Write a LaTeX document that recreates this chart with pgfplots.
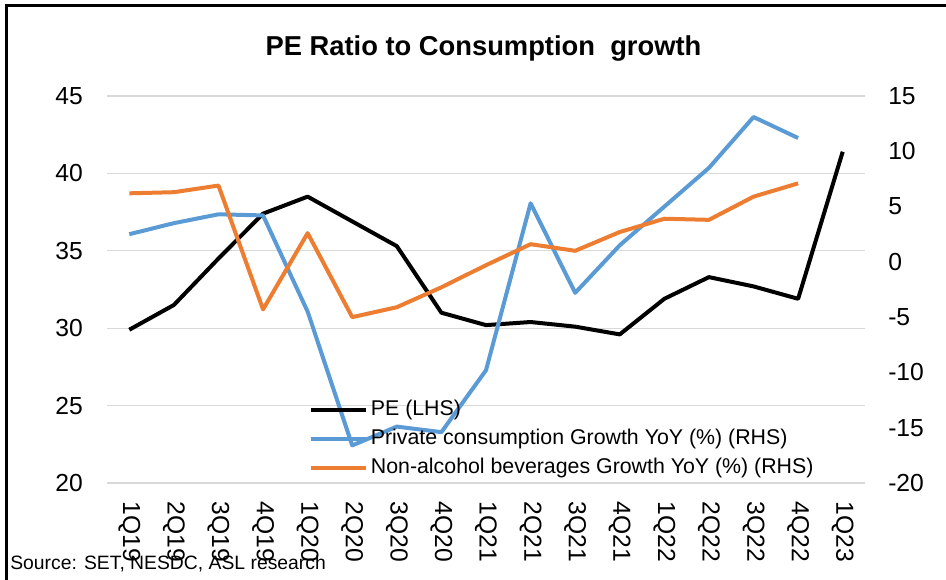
\documentclass[border=0pt]{standalone}
\usepackage{pgfplots}
\pgfplotsset{compat=1.18}
\usepackage{fontspec}
\setmainfont{Liberation Sans}
\definecolor{pcblue}{HTML}{5B9BD5}
\definecolor{naorange}{HTML}{ED7D31}
\definecolor{gridgray}{HTML}{D9D9D9}
\pgfplotstableread{
x pe
0 29.9
1 31.5
2 34.5
3 37.4
4 38.5
5 36.9
6 35.3
7 31.0
8 30.2
9 30.4
10 30.1
11 29.6
12 31.9
13 33.3
14 32.7
15 31.9
16 41.4
}\petable
\pgfplotstableread{
x pc na
0 2.5 6.2
1 3.5 6.3
2 4.3 6.9
3 4.2 -4.3
4 -4.5 2.6
5 -16.6 -5.0
6 -14.9 -4.1
7 -15.4 -2.3
8 -9.8 -0.3
9 5.3 1.6
10 -2.8 1.0
11 1.5 2.7
12 5.0 3.9
13 8.5 3.8
14 13.1 5.9
15 11.2 7.1
}\rhstable
\begin{document}
\begin{tikzpicture}
\useasboundingbox (0,0) rectangle (709.5pt,-434.25pt);
\draw[line width=2.2pt] (4.9pt,-440pt) -- (4.9pt,-4.1pt) -- (715pt,-4.1pt);
\pgfplotsset{
  common/.style={
    at={(80.25pt,-362.25pt)}, anchor=south west,
    scale only axis, width=568.5pt, height=290.25pt,
    xmin=-0.5, xmax=16.5,
    major tick length=0pt,
    /pgf/number format/assume math mode=true,
    tick label style={font=\fontsize{18.5}{20}\selectfont, inner sep=0pt},
  }
}
\begin{axis}[
  common,
  ymin=20, ymax=45, ytick={20,25,...,45},
  axis x line*=bottom, axis y line*=left,
  axis line style={draw=none},
  ymajorgrids, grid style={draw=gridgray, line width=0.8pt},
  xtick={0,...,16},
  xticklabels={1Q19,2Q19,3Q19,4Q19,1Q20,2Q20,3Q20,4Q20,1Q21,2Q21,3Q21,4Q21,1Q22,2Q22,3Q22,4Q22,1Q23},
  xticklabel style={rotate=-90, anchor=west},
  xticklabel shift=14pt,
  yticklabel shift=18pt,
]
\addplot[black, line width=3pt, line join=round] table[x=x,y=pe] {\petable};
\end{axis}
\begin{axis}[
  common,
  ymin=-20, ymax=15, ytick={-20,-15,...,15},
  axis x line=none, axis y line*=right,
  axis line style={draw=none},
  yticklabel style={anchor=west},
  yticklabel shift=17.25pt,
  legend cell align=left,
  legend image code/.code={\draw[#1] (0pt,0pt) -- (41pt,0pt);},
  legend style={draw=none, fill=none, inner sep=0pt,
    at={(0.266,0.214)}, anchor=north west,
    font=\fontsize{16}{18}\selectfont,
    row sep=7.5pt, column sep=2.5pt,
    nodes={inner sep=0pt, text height=11.25pt, text depth=3pt}},
]
\addlegendimage{black, line width=3pt}
\addlegendentry{PE (LHS)}
\addplot[pcblue, line width=3pt, line join=round] table[x=x,y=pc] {\rhstable};
\addlegendentry{Private consumption Growth YoY (\%) (RHS)}
\addplot[naorange, line width=3pt, line join=round] table[x=x,y=na] {\rhstable};
\addlegendentry{Non-alcohol beverages Growth YoY (\%) (RHS)}
\end{axis}
\node[anchor=base, inner sep=0pt, font=\fontsize{20.5}{24}\selectfont\bfseries] at (362.6pt,-41.25pt) {PE Ratio to Consumption\ \ growth};
\node[anchor=base west, inner sep=0pt, font=\fontsize{14.5}{16}\selectfont] at (7.5pt,-426.75pt) {Source: SET, NESDC, ASL research};
\end{tikzpicture}
\end{document}
